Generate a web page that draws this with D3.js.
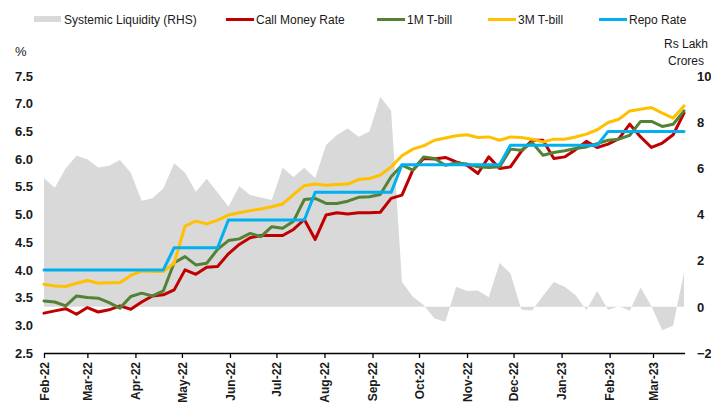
<!DOCTYPE html>
<html>
<head>
<meta charset="utf-8">
<script src="https://cdn.jsdelivr.net/npm/d3@7"></script>
<style>
body{margin:0;background:#fff}
svg{display:block;font-family:"Liberation Sans",Arial,sans-serif}
</style>
</head>
<body>
<div id="chart"></div>
<script>
// weekly (Friday) observations
const dates = [
  "2022-02-11","2022-02-18","2022-02-25","2022-03-04","2022-03-11","2022-03-18","2022-03-25",
  "2022-04-01","2022-04-08","2022-04-15","2022-04-22","2022-04-29","2022-05-06","2022-05-13",
  "2022-05-20","2022-05-27","2022-06-03","2022-06-10","2022-06-17","2022-06-24","2022-07-01",
  "2022-07-08","2022-07-15","2022-07-22","2022-07-29","2022-08-05","2022-08-12","2022-08-19",
  "2022-08-26","2022-09-02","2022-09-09","2022-09-16","2022-09-23","2022-09-30","2022-10-07",
  "2022-10-14","2022-10-21","2022-10-28","2022-11-04","2022-11-11","2022-11-18","2022-11-25",
  "2022-12-02","2022-12-09","2022-12-16","2022-12-23","2022-12-30","2023-01-06","2023-01-13",
  "2023-01-20","2023-01-27","2023-02-03","2023-02-10","2023-02-17","2023-02-24","2023-03-03",
  "2023-03-10","2023-03-17","2023-03-24","2023-03-31"
];
const liquidity = [5.57,5.16,6.0,6.55,6.39,6.04,6.11,6.36,5.81,4.6,4.7,5.13,6.22,5.81,4.99,5.55,
  4.95,4.34,5.22,4.84,4.74,4.63,6.02,5.62,6.02,5.58,7.01,7.44,7.73,7.37,7.6,9.1,8.5,1.09,0.44,
  0.08,-0.5,-0.65,0.87,0.69,0.71,0.41,1.9,1.45,-0.12,-0.16,0.48,1.08,0.87,0.5,-0.14,0.69,-0.14,
  0.02,-0.17,0.84,0.02,-1.01,-0.81,1.5];
const callMoney = [3.22,3.26,3.30,3.20,3.32,3.24,3.28,3.35,3.29,3.42,3.53,3.55,3.64,4.00,3.92,4.05,
  4.06,4.29,4.46,4.58,4.62,4.62,4.62,4.73,4.91,4.55,4.99,5.03,5.01,5.03,5.03,5.04,5.29,5.35,5.80,
  6.01,6.00,6.03,5.95,5.89,5.74,6.04,5.83,5.86,6.14,6.34,6.34,6.01,6.04,6.17,6.32,6.21,6.27,6.37,
  6.63,6.40,6.21,6.29,6.44,6.83];
const tbill1m = [3.44,3.42,3.35,3.53,3.50,3.49,3.41,3.31,3.52,3.58,3.53,3.62,4.13,4.24,4.09,4.12,
  4.37,4.53,4.56,4.66,4.60,4.78,4.75,4.88,5.27,5.29,5.20,5.20,5.24,5.31,5.32,5.36,5.68,5.89,5.80,
  6.04,6.01,5.89,5.93,5.91,5.86,5.85,5.86,6.18,6.16,6.30,6.07,6.12,6.15,6.19,6.22,6.28,6.34,6.36,
  6.43,6.68,6.68,6.59,6.63,6.87];
const tbill3m = [3.74,3.71,3.70,3.76,3.81,3.76,3.77,3.77,3.90,3.98,3.97,3.97,4.12,4.79,4.88,4.83,
  4.90,4.99,5.03,5.07,5.10,5.14,5.19,5.36,5.52,5.55,5.53,5.54,5.55,5.63,5.65,5.71,5.86,6.06,6.18,
  6.24,6.34,6.38,6.42,6.44,6.39,6.40,6.34,6.40,6.39,6.36,6.31,6.36,6.36,6.40,6.45,6.53,6.66,6.72,
  6.87,6.90,6.93,6.83,6.74,6.96];
const repo = [4.0,4.0,4.0,4.0,4.0,4.0,4.0,4.0,4.0,4.0,4.0,4.0,4.4,4.4,4.4,4.4,4.4,4.9,4.9,4.9,4.9,
  4.9,4.9,4.9,4.9,5.4,5.4,5.4,5.4,5.4,5.4,5.4,5.4,5.9,5.9,5.9,5.9,5.9,5.9,5.9,5.9,5.9,5.9,6.25,
  6.25,6.25,6.25,6.25,6.25,6.25,6.25,6.25,6.5,6.5,6.5,6.5,6.5,6.5,6.5,6.5];
const tickDates = ["2022-02-11","2022-03-11","2022-04-11","2022-05-11","2022-06-11","2022-07-11",
  "2022-08-11","2022-09-11","2022-10-11","2022-11-11","2022-12-11","2023-01-11","2023-02-11","2023-03-11"];
const leftTicks = [2.5,3.0,3.5,4.0,4.5,5.0,5.5,6.0,6.5,7.0,7.5];
const rightTicks = [-2,0,2,4,6,8,10];

const parse = d3.timeParse("%Y-%m-%d");
const xs = dates.map(parse);

const W = 711, H = 403;
const svg = d3.select("#chart").append("svg").attr("width", W).attr("height", H);

let x = d3.scaleTime().domain([xs[0], xs[xs.length-1]]).range([44, 684]);
let yL = d3.scaleLinear().domain([2.5, 7.5]).range([353, 76]);
let yR = d3.scaleLinear().domain([-2, 10]).range([353, 76]);

// liquidity area (RHS)
svg.append("path")
  .datum(liquidity)
  .attr("fill", "#d9d9d9")
  .attr("d", d3.area()
    .x((d, i) => x(xs[i]))
    .y0(yR(0))
    .y1(d => yR(d)));

const series = [
  {name: "Call Money Rate", values: callMoney, color: "#c00000"},
  {name: "1M T-bill", values: tbill1m, color: "#548235"},
  {name: "3M T-bill", values: tbill3m, color: "#ffc000"},
  {name: "Repo Rate", values: repo, color: "#00b0f0"}
];

let line = d3.line().x((d, i) => x(xs[i])).y(d => yL(d));
series.forEach(s => {
  svg.append("path")
    .datum(s.values)
    .attr("fill", "none")
    .attr("stroke", s.color)
    .attr("stroke-width", 3)
    .attr("stroke-linejoin", "round")
    .attr("stroke-linecap", "round")
    .attr("d", line);
});

// x axis
let xAxis = svg.append("g")
  .attr("transform", "translate(0,353)")
  .call(d3.axisBottom(x).tickValues(tickDates.map(parse)).tickFormat(d3.timeFormat("%b-%y")).tickSize(5).tickSizeOuter(0));
xAxis.select(".domain").attr("stroke", "#000").attr("stroke-width", 1.3).attr("d", "M44,0.5H685");
xAxis.selectAll(".tick line").attr("stroke", "#000").attr("stroke-width", 1.3);
xAxis.selectAll(".tick text")
  .attr("transform", "rotate(-90)")
  .attr("text-anchor", "end")
  .attr("x", -9)
  .attr("y", 0)
  .attr("dy", "0.35em")
  .style("font", "bold 12px 'Liberation Sans', Arial, sans-serif")
  .attr("fill", "#1a1a1a");

// left axis
let lAxis = svg.append("g")
  .attr("transform", "translate(44,0)")
  .call(d3.axisLeft(yL).tickValues(leftTicks).tickFormat(d3.format(".1f")).tickSize(0).tickPadding(11));
lAxis.select(".domain").remove();
lAxis.selectAll("text").style("font", "bold 13px 'Liberation Sans', Arial, sans-serif").attr("fill", "#1a1a1a");

// right axis
let rAxis = svg.append("g")
  .attr("transform", "translate(684,0)")
  .call(d3.axisRight(yR).tickValues(rightTicks).tickSize(0).tickPadding(13));
rAxis.select(".domain").remove();
rAxis.selectAll("text").style("font", "bold 13px 'Liberation Sans', Arial, sans-serif").attr("fill", "#1a1a1a");

// axis titles
svg.append("text").attr("x", 15).attr("y", 56).text("%")
  .style("font", "13px 'Liberation Sans', Arial, sans-serif").attr("fill", "#1a1a1a");
svg.append("text").attr("x", 686).attr("y", 48).attr("text-anchor", "middle").text("Rs Lakh")
  .style("font", "12px 'Liberation Sans', Arial, sans-serif").attr("fill", "#1a1a1a");
svg.append("text").attr("x", 686).attr("y", 65).attr("text-anchor", "middle").text("Crores")
  .style("font", "12px 'Liberation Sans', Arial, sans-serif").attr("fill", "#1a1a1a");

// legend
const legendItems = [
  {name: "Systemic Liquidity (RHS)", color: "#d9d9d9", area: true, x: 34},
  {name: "Call Money Rate", color: "#c00000", x: 226},
  {name: "1M T-bill", color: "#548235", x: 377},
  {name: "3M T-bill", color: "#ffc000", x: 488},
  {name: "Repo Rate", color: "#00b0f0", x: 599}
];
let legend = svg.append("g");
legendItems.forEach(d => {
  if (d.area) {
    legend.append("rect").attr("x", d.x).attr("y", 16).attr("width", 27).attr("height", 6).attr("fill", d.color);
  } else {
    legend.append("line").attr("x1", d.x).attr("x2", d.x + 28).attr("y1", 19.5).attr("y2", 19.5)
      .attr("stroke", d.color).attr("stroke-width", 3);
  }
  legend.append("text").attr("x", d.x + 30).attr("y", 19.5).attr("dy", "0.35em").text(d.name)
    .style("font", "12px 'Liberation Sans', Arial, sans-serif").attr("fill", "#1a1a1a");
});
</script>
</body>
</html>
